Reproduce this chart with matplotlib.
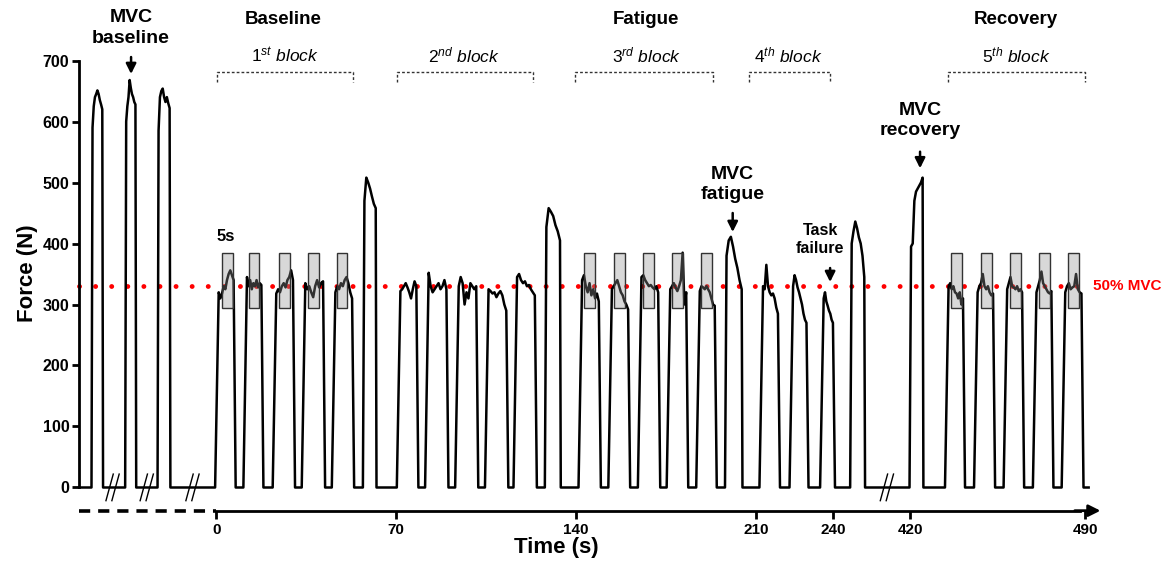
from matplotlib import pyplot as plt
from matplotlib.patches import Rectangle
import numpy as np

plt.rcParams['font.family'] = 'Liberation Sans'
plt.rcParams['mathtext.fontset'] = 'custom'
plt.rcParams['mathtext.it'] = 'Liberation Sans:italic'
plt.rcParams['mathtext.rm'] = 'Liberation Sans'

# time along the drawn axis (s); the pre-test MVCs sit left of 0, recovery after the break
mvc_pre_on = [-48.6, -35.5, -22.9]
mvc_pre_off = [-44.1, -31.2, -17.9]
mvc_pre_plateaus = [
    [590, 625, 640, 645, 651, 645, 635, 628, 620],
    [600, 625, 640, 668, 655, 645, 640, 632, 628],
    [585, 640, 650, 654, 640, 632, 640, 630, 622],
]

block_on = [-0.5, 10.5, 21.9, 33.2, 44.9,
            70.2, 81.2, 92.9, 104.5, 115.6,
            140.9, 152.5, 164.0, 175.2, 186.7,
            211.3, 223.0, 234.9,
            283.5, 294.8, 306.3, 317.7, 328.9]
block_off = [7.5, 18.3, 30.6, 42.3, 53.6,
             78.6, 90.3, 101.9, 113.6, 124.7,
             149.6, 161.0, 172.7, 183.6, 194.7,
             219.3, 230.4, 240.7,
             291.3, 303.0, 314.3, 325.7, 337.4]
block_plateaus = [
    [320, 310, 318, 330, 325, 340, 350, 356, 348, 340],
    [345, 330, 340, 325, 335, 330, 340, 328, 335, 332],
    [318, 325, 320, 330, 335, 328, 340, 345, 356, 340],
    [335, 325, 330, 320, 312, 330, 340, 328, 335, 338],
    [320, 330, 325, 335, 330, 340, 345, 335, 320, 310],
    [322, 325, 330, 335, 328, 320, 310, 325, 338, 330],
    [352, 330, 320, 325, 330, 335, 325, 330, 340, 325],
    [330, 345, 335, 300, 320, 310, 335, 330, 325, 330],
    [325, 322, 318, 320, 312, 318, 322, 315, 300, 290],
    [345, 350, 340, 335, 338, 330, 332, 325, 320, 315],
    [340, 348, 330, 320, 335, 315, 325, 310, 318, 305],
    [325, 330, 335, 340, 330, 320, 315, 305, 300, 292],
    [345, 348, 340, 335, 330, 332, 328, 325, 330, 320],
    [325, 330, 335, 328, 322, 330, 340, 385, 300, 320],
    [322, 330, 328, 325, 330, 325, 320, 310, 300, 298],
    [330, 325, 365, 330, 320, 315, 318, 310, 295, 285],
    [330, 348, 340, 328, 320, 310, 300, 285, 275, 270],
    [310, 320, 305, 298, 290, 285, 275, 270],
    [330, 335, 325, 330, 320, 318, 310, 320, 300, 310],
    [320, 330, 335, 350, 330, 325, 330, 320, 315, 318],
    [325, 335, 345, 330, 328, 325, 330, 322, 325, 320],
    [320, 330, 340, 354, 335, 330, 325, 320, 318, 322],
    [320, 330, 335, 325, 328, 330, 350, 325, 320, 318],
]

big_on = [57.0, 127.8, 197.9, 246.6, 269.7]
big_off = [62.3, 134.0, 204.7, 252.4, 275.1]
big_plateaus = [
    [470, 508, 500, 490, 477, 465, 458],
    [427, 458, 452, 445, 430, 420, 405],
    [380, 405, 411, 395, 375, 360, 340, 325],
    [400, 420, 436, 425, 410, 400, 380, 345],
    [395, 400, 470, 485, 490, 495, 500, 508],
]

box_starts = [2.1, 12.5, 24.3, 35.6, 46.8,
              143.1, 154.9, 166.1, 177.4, 188.6,
              285.9, 297.5, 308.9, 320.2, 331.5]
box_low, box_high = 294, 384
mvc50 = 330

tick_pos = [0, 70, 140, 210, 240, 269.9, 338.0]
tick_labels = ['0', '70', '140', '210', '240', '420', '490']

bracket_start = [0.2, 70.2, 139.6, 207.1, 284.7]
bracket_end = [53.2, 123.2, 193.3, 238.8, 338.0]
block_names = [r'$\mathit{1}^{\mathit{st}}$ block', r'$\mathit{2}^{\mathit{nd}}$ block',
               r'$\mathit{3}^{\mathit{rd}}$ block', r'$\mathit{4}^{\mathit{th}}$ block',
               r'$\mathit{5}^{\mathit{th}}$ block']
block_label_x = [26.7, 96.4, 167.5, 222.7, 311.2]

break_marks = [-40.4, -27.1, -9.3, 260.9]

X0, X1 = -53.4, 339.4


def pulse(on, off, plateau, rise, fall):
    ts = np.linspace(on + rise, off - fall, len(plateau))
    return [on] + list(ts) + [off], [0] + list(plateau) + [0]


def main():
    pulses = []
    for on, off, p in zip(mvc_pre_on, mvc_pre_off, mvc_pre_plateaus):
        pulses.append(pulse(on, off, p, 0.4, 0.3))
    for on, off, p in zip(block_on, block_off, block_plateaus):
        pulses.append(pulse(on, off, p, 1.4, 0.8))
    for on, off, p in zip(big_on, big_off, big_plateaus):
        pulses.append(pulse(on, off, p, 0.6, 0.3))
    pulses.sort(key=lambda q: q[0][0])

    t = [X0]
    f = [0]
    for ts, fs in pulses:
        t += ts
        f += fs
    t.append(X1)
    f.append(0)

    fig = plt.figure(figsize=(11.66, 5.66), dpi=100)
    ax = fig.add_axes([0, 0, 1, 1])
    ax.set_xlim(-84.2, 369.5)
    ax.set_ylim(-128.7, 799.2)

    ax.plot(t, f, color='black', lw=1.8, zorder=3, clip_on=False)

    ax.plot([X0, 338], [mvc50, mvc50], color='red', lw=3.5,
            linestyle=(0, (0.01, 3.3)), dash_capstyle='round', zorder=2)
    ax.text(341.1, mvc50, '50% MVC', color='red', fontsize=11, fontweight='bold',
            ha='left', va='center')

    for s in box_starts:
        ax.add_patch(Rectangle((s, box_low), 4.2, box_high - box_low,
                               facecolor=(0.57, 0.57, 0.57, 0.35),
                               edgecolor='#333333', lw=1, zorder=4))

    # axes
    for side in ['top', 'right']:
        ax.spines[side].set_visible(False)
    ax.spines['left'].set_position(('data', X0))
    ax.spines['left'].set_bounds(0, 700)
    ax.spines['left'].set_linewidth(2)
    ax.spines['bottom'].set_position(('data', -38))
    ax.spines['bottom'].set_bounds(0, 336)
    ax.spines['bottom'].set_linewidth(2)
    ax.annotate('', xy=(344, -38), xytext=(334, -38),
                arrowprops=dict(arrowstyle='-|>,head_length=0.7,head_width=0.35',
                                lw=2, color='black', shrinkA=0, shrinkB=0))
    ax.plot([X0, 0], [-38, -38], color='black', lw=2.6,
            linestyle=(0, (3.1, 2.2)), clip_on=False)

    ax.set_yticks(range(0, 701, 100))
    ax.set_yticklabels([str(v) for v in range(0, 701, 100)], fontweight='bold')
    ax.set_xticks(tick_pos)
    ax.set_xticklabels(tick_labels, fontweight='bold')
    ax.tick_params(axis='y', direction='out', length=5, width=2, labelsize=11.5, pad=2)
    ax.tick_params(axis='x', direction='out', length=6, width=2, labelsize=11, pad=3)

    for c in break_marks:
        for off in (-1.15, 1.15):
            ax.plot([c + off - 1.42, c + off + 1.42], [-21.6, 22], color='black',
                    lw=1, zorder=5)

    ax.text(-73.6, 351.6, 'Force (N)', rotation=90, fontsize=16, fontweight='bold',
            ha='center', va='center')
    ax.text(132.2, -99, 'Time (s)', fontsize=16, fontweight='bold',
            ha='center', va='center')

    # phases and blocks
    for x, name in zip([26.0, 167.1, 311.1], ['Baseline', 'Fatigue', 'Recovery']):
        ax.text(x, 768, name, fontsize=13.5, fontweight='bold', ha='center', va='center')
    for x, name in zip(block_label_x, block_names):
        ax.text(x, 709, name, fontsize=12.5, style='italic', ha='center', va='center')
    for a, b in zip(bracket_start, bracket_end):
        ax.plot([a, a, b, b], [665.4, 681.6, 681.6, 665.4], color='#333333', lw=1,
                linestyle=(0, (2, 1.5)))

    ax.text(3.8, 412, '5s', fontsize=12, fontweight='bold', ha='center', va='center')

    arrow = dict(arrowstyle='-|>,head_length=0.6,head_width=0.3', lw=1.8,
                 color='black', shrinkA=0, shrinkB=0)
    notes = [
        ('MVC\nbaseline', -33.2, 753.7, 14, 705.7, 677.9, -33.2),
        ('MVC\nfatigue', 200.9, 496.7, 14, 450.0, 418.9, 200.9),
        ('Task\nfailure', 234.9, 406.6, 11.5, 359.8, 336.9, 238.8),
        ('MVC\nrecovery', 273.8, 601.6, 14, 550.5, 523.3, 273.8),
    ]
    for txt, x, y, fs, a0, a1, ax_x in notes:
        ax.text(x, y, txt, fontsize=fs, fontweight='bold', ha='center', va='center',
                linespacing=1.3)
        ax.annotate('', xy=(ax_x, a1), xytext=(ax_x, a0), arrowprops=arrow)

    plt.savefig('out.png', dpi=100)


main()
